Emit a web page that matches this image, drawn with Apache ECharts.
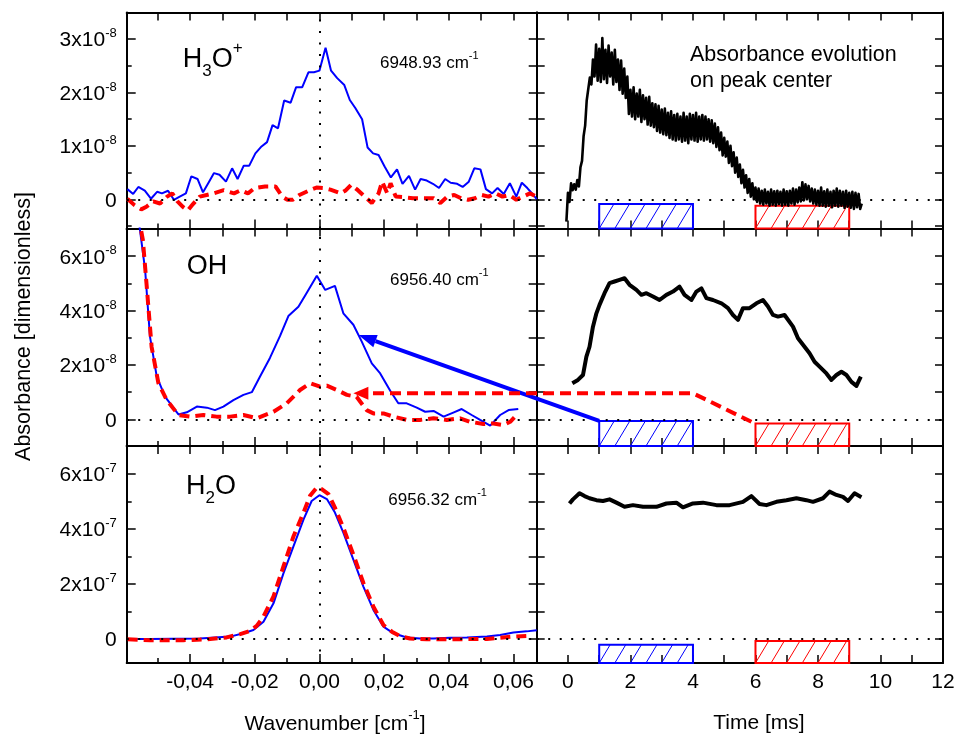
<!DOCTYPE html>
<html>
<head>
<meta charset="utf-8">
<script src="https://cdn.jsdelivr.net/npm/echarts@6/dist/echarts.min.js"></script>
<style>
html, body { margin: 0; padding: 0; background: #fff; }
#chart { width: 958px; height: 735px; }
</style>
</head>
<body>
<div id="chart"></div>
<script>
// ---------- Spectra (left column): wavenumber offset in cm^-1 ----------
// H3O+ line at 6948.93 cm^-1, absorbance in units of 1e-8
const h3oEarlyX = [-0.0594,-0.0576,-0.0560,-0.0540,-0.0521,-0.0502,-0.0487,-0.0468,-0.0450,-0.0432,
  -0.0413,-0.0396,-0.0377,-0.0360,-0.0343,-0.0326,-0.0309,-0.0289,-0.0270,-0.0253,
  -0.0234,-0.0217,-0.0198,-0.0179,-0.0162,-0.0145,-0.0128,-0.0109,-0.0089,-0.0072,
  -0.0053,-0.0034,-0.0017,0.0000,0.0019,0.0036,0.0055,0.0077,0.0094,0.0111,
  0.0132,0.0149,0.0166,0.0183,0.0202,0.0221,0.0240,0.0257,0.0277,0.0296,
  0.0313,0.0332,0.0351,0.0370,0.0389,0.0406,0.0426,0.0443,0.0462,0.0479,
  0.0498,0.0515,0.0534,0.0551,0.0570,0.0589,0.0609,0.0626,0.0643,0.0662,0.0672];
const h3oEarlyY = [0.19,0.10,0.23,0.16,0.01,0.14,0.11,0.16,-0.01,0.05,
  0.11,0.43,0.38,0.13,0.31,0.49,0.46,0.33,0.58,0.38,
  0.63,0.63,0.86,0.99,1.07,1.39,1.33,1.85,1.81,2.10,
  2.10,2.38,2.38,2.41,2.84,2.41,2.27,2.14,1.86,1.71,
  1.50,0.97,0.86,0.83,0.61,0.41,0.56,0.29,0.44,0.18,
  0.38,0.35,0.29,0.21,0.38,0.31,0.29,0.23,0.33,0.58,
  0.56,0.19,0.11,0.21,0.10,0.30,0.05,0.31,0.21,0.08,0.00];
const h3oLateX = [-0.0594,-0.0572,-0.0551,-0.0535,-0.0514,-0.0493,-0.0471,-0.0455,-0.0439,-0.0423,
  -0.0407,-0.0391,-0.0370,-0.0349,-0.0328,-0.0296,-0.0264,-0.0243,-0.0221,-0.0200,
  -0.0168,-0.0136,-0.0115,-0.0099,-0.0083,-0.0062,-0.0030,-0.0009,0.0013,0.0034,
  0.0066,0.0082,0.0098,0.0119,0.0140,0.0162,0.0183,0.0194,0.0210,0.0220,
  0.0236,0.0257,0.0289,0.0321,0.0353,0.0374,0.0396,0.0417,0.0438,0.0460,
  0.0481,0.0502,0.0523,0.0545,0.0566,0.0587,0.0609,0.0630,0.0651,0.0672];
const h3oLateY = [0.01,-0.11,-0.19,-0.14,-0.04,-0.08,0.05,0.11,-0.04,-0.14,
  -0.21,-0.09,0.05,0.08,0.11,0.17,0.11,0.17,0.11,0.21,
  0.24,0.24,0.05,-0.01,-0.01,0.08,0.17,0.22,0.21,0.18,
  0.11,0.17,0.27,0.17,0.05,-0.07,0.11,0.33,0.11,0.30,
  0.05,0.04,0.02,0.02,0.02,-0.07,0.05,0.08,0.02,-0.01,
  0.02,0.08,0.05,0.11,0.05,0.08,-0.01,0.05,0.11,0.05];

// OH line at 6956.40 cm^-1, absorbance in units of 1e-8
const ohEarlyX = [-0.0562,-0.0555,-0.0539,-0.0524,-0.0503,-0.0477,-0.0436,-0.0410,-0.0379,-0.0348,
  -0.0323,-0.0297,-0.0266,-0.0235,-0.0209,-0.0184,-0.0153,-0.0122,-0.0096,-0.0065,
  -0.0039,-0.0008,0.0018,0.0048,0.0074,0.0105,0.0131,0.0162,0.0188,0.0219,
  0.0244,0.0270,0.0301,0.0327,0.0353,0.0384,0.0414,0.0440,0.0471,0.0497,
  0.0528,0.0559,0.0585,0.0615];
const ohEarlyY = [7.6,6.97,5.50,3.04,1.57,0.83,0.18,0.26,0.47,0.43,
  0.34,0.47,0.71,0.90,1.00,1.57,2.26,3.06,3.80,4.14,
  4.66,5.28,4.76,4.91,3.90,3.48,2.86,2.06,1.69,1.05,
  0.59,0.59,0.43,0.28,0.31,0.10,0.25,0.38,0.16,-0.02,
  -0.23,0.16,0.34,0.38];
const ohLateX = [-0.0560,-0.0546,-0.0534,-0.0519,-0.0498,-0.0472,-0.0436,-0.0400,-0.0359,-0.0318,
  -0.0276,-0.0235,-0.0194,-0.0142,-0.0101,-0.0060,-0.0029,0.0002,0.0023,0.0054,
  0.0085,0.0115,0.0146,0.0167,0.0198,0.0229,0.0270,0.0311,0.0353,0.0394,
  0.0435,0.0466,0.0507,0.0538,0.0569,0.0590,0.0615];
const ohLateY = [7.5,6.60,4.88,2.67,1.33,0.71,0.16,0.10,0.16,0.10,
  0.10,0.16,0.04,0.28,0.59,1.08,1.33,1.20,1.24,1.08,
  0.90,0.83,0.34,0.22,0.22,0.10,-0.02,-0.02,0.04,-0.02,
  0.04,-0.09,-0.17,-0.15,-0.21,-0.09,0.22];

// H2O line at 6956.32 cm^-1, absorbance in units of 1e-7
const h2oEarlyX = [-0.0593,-0.0524,-0.0452,-0.0369,-0.0276,-0.0235,-0.0204,-0.0173,-0.0142,-0.0111,
  -0.0080,-0.0049,-0.0024,0.0000,0.0023,0.0048,0.0074,0.0105,0.0136,0.0167,
  0.0198,0.0229,0.0270,0.0311,0.0353,0.0404,0.0456,0.0518,0.0559,0.0600,0.0641,0.0672];
const h2oEarlyY = [0.00,0.00,0.01,0.02,0.09,0.21,0.33,0.63,1.30,2.40,
  3.38,4.35,5.02,5.23,5.09,4.60,3.87,2.89,1.91,1.06,
  0.45,0.21,0.06,0.02,0.02,0.05,0.06,0.09,0.15,0.24,0.28,0.32];
const h2oLateX = [-0.0593,-0.0524,-0.0421,-0.0348,-0.0287,-0.0245,-0.0214,-0.0194,-0.0173,-0.0142,
  -0.0111,-0.0080,-0.0049,-0.0029,-0.0008,0.0007,0.0028,0.0048,0.0074,0.0105,
  0.0136,0.0167,0.0198,0.0224,0.0249,0.0280,0.0332,0.0404,0.0456,0.0518,0.0559,0.0600,0.0641];
const h2oLateY = [-0.01,-0.04,-0.04,-0.01,0.06,0.18,0.30,0.48,0.82,1.55,
  2.65,3.74,4.60,5.21,5.51,5.45,5.27,4.78,4.05,3.07,
  2.04,1.18,0.51,0.27,0.11,0.02,-0.01,-0.01,0.00,0.00,0.05,0.09,0.11];

// ---------- Absorbance on peak centre versus time (right column), time in ms ----------
// H3O+ (1e-8): noisy record, sampled every 0.05 ms
const h3oTraceT = [-0.05,0.00,0.05,0.10,0.15,0.20,0.25,0.30,0.35,0.40,0.45,0.50,0.55,0.60,0.65,0.70,0.75,0.80,0.85,0.90,0.95,
  1.00,1.05,1.10,1.15,1.20,1.25,1.30,1.35,1.40,1.45,1.50,1.55,1.60,1.65,1.70,1.75,1.80,1.85,1.90,1.95,
  2.00,2.05,2.10,2.15,2.20,2.25,2.30,2.35,2.40,2.45,2.50,2.55,2.60,2.65,2.70,2.75,2.80,2.85,2.90,2.95,
  3.00,3.05,3.10,3.15,3.20,3.25,3.30,3.35,3.40,3.45,3.50,3.55,3.60,3.65,3.70,3.75,3.80,3.85,3.90,3.95,
  4.00,4.05,4.10,4.15,4.20,4.25,4.30,4.35,4.40,4.45,4.50,4.55,4.60,4.65,4.70,4.75,4.80,4.85,4.90,4.95,
  5.00,5.05,5.10,5.15,5.20,5.25,5.30,5.35,5.40,5.45,5.50,5.55,5.60,5.65,5.70,5.75,5.80,5.85,5.90,5.95,
  6.00,6.05,6.10,6.15,6.20,6.25,6.30,6.35,6.40,6.45,6.50,6.55,6.60,6.65,6.70,6.75,6.80,6.85,6.90,6.95,
  7.00,7.05,7.10,7.15,7.20,7.25,7.30,7.35,7.40,7.45,7.50,7.55,7.60,7.65,7.70,7.75,7.80,7.85,7.90,7.95,
  8.00,8.05,8.10,8.15,8.20,8.25,8.30,8.35,8.40,8.45,8.50,8.55,8.60,8.65,8.70,8.75,8.80,8.85,8.90,8.95,
  9.00,9.05,9.10,9.15,9.20,9.25,9.30,9.35,9.40];
const h3oTraceY = [-0.42,0.12,-0.05,0.30,0.17,0.28,0.18,0.36,0.24,0.60,0.72,1.18,1.38,1.85,1.85,2.28,2.15,2.62,2.30,2.90,2.22,
  2.82,2.20,3.02,2.25,2.80,2.18,2.88,2.30,2.75,2.15,2.80,2.20,2.62,2.05,2.60,1.98,2.45,1.90,2.30,1.60,
  2.05,1.55,2.10,1.50,1.98,1.55,2.05,1.45,1.95,1.50,1.90,1.40,1.92,1.38,1.80,1.35,1.78,1.28,1.75,1.25,
  1.68,1.22,1.70,1.20,1.62,1.15,1.65,1.12,1.58,1.10,1.60,1.12,1.55,1.08,1.62,1.10,1.55,1.05,1.60,1.12,
  1.58,1.10,1.62,1.08,1.55,1.12,1.58,1.10,1.55,1.12,1.50,1.08,1.48,1.05,1.42,0.98,1.35,0.92,1.25,0.82,
  1.15,0.80,1.08,0.68,1.00,0.62,0.88,0.50,0.78,0.42,0.65,0.30,0.55,0.22,0.45,0.12,0.38,0.05,0.30,0.00,
  0.22,-0.05,0.20,-0.08,0.16,-0.10,0.18,-0.08,0.14,-0.12,0.18,-0.10,0.15,-0.12,0.16,-0.09,0.14,-0.12,0.18,-0.10,
  0.15,-0.12,0.16,-0.08,0.20,-0.10,0.18,-0.06,0.22,-0.04,0.32,-0.02,0.28,0.00,0.25,-0.04,0.20,-0.08,0.18,-0.10,
  0.16,-0.12,0.22,-0.12,0.15,-0.14,0.18,-0.12,0.14,-0.15,0.16,-0.12,0.20,-0.14,0.16,-0.12,0.14,-0.16,0.16,-0.14,
  0.12,-0.16,0.14,-0.18,0.12,-0.15,0.10,-0.18,-0.08];
// OH (1e-8)
const ohTraceT = [0.14,0.32,0.48,0.59,0.69,0.80,0.91,1.01,1.17,1.33,
  1.49,1.65,1.81,1.97,2.19,2.35,2.51,2.72,2.93,3.15,
  3.36,3.57,3.73,3.95,4.11,4.27,4.43,4.64,4.91,5.12,
  5.28,5.44,5.60,5.81,6.03,6.24,6.40,6.56,6.72,6.93,
  7.20,7.36,7.57,7.73,7.89,8.05,8.27,8.43,8.59,8.75,
  8.91,9.07,9.23,9.37];
const ohTraceY = [1.33,1.45,1.63,2.31,2.67,3.41,3.90,4.21,4.64,5.01,
  5.07,5.13,5.19,4.95,4.76,4.58,4.64,4.52,4.39,4.58,
  4.70,4.88,4.58,4.39,4.70,4.82,4.46,4.39,4.27,4.09,
  3.84,3.66,4.09,4.09,4.27,4.39,4.15,3.84,3.78,3.84,
  3.41,2.98,2.67,2.43,2.12,1.94,1.69,1.45,1.63,1.75,
  1.63,1.38,1.23,1.57];
// H2O (1e-7)
const h2oTraceT = [0.05,0.16,0.37,0.53,0.69,0.91,1.12,1.33,1.55,1.81,
  2.08,2.40,2.83,3.15,3.47,3.68,4.00,4.32,4.75,5.17,
  5.60,5.87,6.13,6.35,6.67,6.99,7.31,7.63,7.84,8.16,
  8.37,8.59,8.80,8.96,9.17,9.39];
const h2oTraceY = [4.93,5.08,5.30,5.20,5.12,5.05,5.02,5.08,4.96,4.81,
  4.87,4.81,4.81,4.93,4.96,4.79,4.93,4.96,4.87,4.87,
  4.99,5.20,4.91,4.87,4.99,5.05,5.12,5.05,4.99,5.12,
  5.36,5.24,5.17,5.02,5.30,5.16];

// Averaging windows on the time axis (ms): early = blue, late = red
const windowStart = [1, 6];
const windowEnd = [4, 9];
const windowColors = ['#0000ff', '#ff0000'];
// upper edge of each window box per row (same units as that row's y axis)
const windowTop = [[-0.09, -0.12], [-0.06, -0.15], [-0.21, -0.07]];

// Arrows linking the OH time panel to the OH spectrum
const arrowBlueFrom = [1.0, -0.06];      // time panel (ms, 1e-8)
const arrowBlueTo = [0.0121, 3.10];      // spectrum panel (cm^-1, 1e-8)
const arrowRedPath = [[5.87, -0.09], [4.0, 0.96]];
const arrowRedTo = [0.0105, 0.96];

// ---------- Axes ----------
const waveRange = [-0.0596, 0.0672];
const timeRange = [-1, 12];
const yRanges = [[-0.548, 3.5], [-0.98, 7.02], [-0.87, 7.02]];
const yExponent = ['-8', '-8', '-7'];
const waveMajor = [-0.04, -0.02, 0, 0.02, 0.04, 0.06];
const waveMinor = [-0.05, -0.03, -0.01, 0.01, 0.03, 0.05];
const timeTicks = [0, 1, 2, 3, 4, 5, 6, 7, 8, 9, 10, 11];
const timeLabels = [0, 2, 4, 6, 8, 10, 12];
const yMajor = [[0, 1, 2, 3], [0, 2, 4, 6], [0, 2, 4, 6]];
const yMinor = [[-0.5, 0.5, 1.5, 2.5], [1, 3, 5], [1, 3, 5]];

const speciesLabels = [
  {text: '{m|H}{b|3}{m|O}{p|+}', x: 182.7, y: 59.7},
  {text: '{m|OH}', x: 186.7, y: 266.3},
  {text: '{m|H}{b|2}{m|O}', x: 186, y: 486.7}
];
const lineLabels = [
  {text: '{a|6948.93 cm}{e|-1}', x: 380, y: 63.3},
  {text: '{a|6956.40 cm}{e|-1}', x: 390, y: 280},
  {text: '{a|6956.32 cm}{e|-1}', x: 388.3, y: 500}
];

const FONT = '"Liberation Sans", Arial, Helvetica, sans-serif';
const gridLeft = [126.7, 536.7];
const gridWidth = [410, 406.3];
const gridTop = [12.5, 228.5, 446];
const gridHeight = [216, 217.5, 217];

const pairs = (xs, ys) => xs.map((x, i) => [x, ys[i]]);
const fmtWave = v => v.toFixed(2).replace('.', ',');

function axis(o) {
  const a = {
    type: 'value', gridIndex: o.grid, position: o.position, min: o.min, max: o.max,
    splitLine: {show: false}, minorTick: {show: false}, minorSplitLine: {show: false},
    axisPointer: {show: false},
    axisLine: {show: !!o.line, onZero: false, lineStyle: {color: '#000', width: 2}},
    axisTick: {show: o.ticks.length > 0, inside: true, length: o.len,
      customValues: o.ticks, lineStyle: {color: '#000', width: 1.5}},
    axisLabel: {show: false}
  };
  if (o.labels) {
    a.axisLabel = {show: true, customValues: o.labels, formatter: o.formatter,
      color: '#000', fontSize: 21, fontFamily: FONT, margin: o.margin};
    if (o.rich) a.axisLabel.rich = o.rich;
  }
  return a;
}

// mantissa sits at the bottom of a 24px line, exponent at its top
const yRich = {
  n: {fontSize: 21, lineHeight: 24, verticalAlign: 'bottom', fontFamily: FONT, color: '#000'},
  e: {fontSize: 13, verticalAlign: 'top', fontFamily: FONT, color: '#000'}
};

const grids = [], xAxes = [], yAxes = [];
for (let r = 0; r < 3; r++) {
  for (let c = 0; c < 2; c++) {
    const g = r * 2 + c;
    grids.push({left: gridLeft[c], top: gridTop[r], width: gridWidth[c], height: gridHeight[r]});
    const xr = c === 0 ? waveRange : timeRange;
    const yr = yRanges[r];
    const xAll = c === 0 ? waveMajor.concat(waveMinor) : timeTicks;
    const yAll = yMajor[r].concat(yMinor[r]);
    const exp = yExponent[r];
    xAxes.push(axis({grid: g, position: 'bottom', min: xr[0], max: xr[1], line: true,
      ticks: c === 0 ? waveMajor : timeTicks, len: c === 0 ? 9 : 8,
      labels: r === 2 ? (c === 0 ? waveMajor : timeLabels) : null,
      formatter: c === 0 ? fmtWave : (v => String(v)), margin: 9}));
    xAxes.push(axis({grid: g, position: 'bottom', min: xr[0], max: xr[1],
      ticks: c === 0 ? waveMinor : [], len: 5}));
    xAxes.push(axis({grid: g, position: 'top', min: xr[0], max: xr[1], line: true,
      ticks: xAll, len: 8}));
    yAxes.push(axis({grid: g, position: 'left', min: yr[0], max: yr[1], line: true,
      ticks: c === 0 ? yMajor[r] : yAll, len: c === 0 ? 9 : 8,
      labels: c === 0 ? yMajor[r] : null,
      formatter: v => v === 0 ? '{n|0}' : '{n|' + v + 'x10}{e|' + exp + '}',
      rich: yRich, margin: 10}));
    yAxes.push(axis({grid: g, position: 'left', min: yr[0], max: yr[1],
      ticks: c === 0 ? yMinor[r] : [], len: 5}));
    yAxes.push(axis({grid: g, position: 'right', min: yr[0], max: yr[1], line: true,
      ticks: yAll, len: 8}));
  }
}

// ---------- Series ----------
const dotted = {color: '#000', width: 2, type: [2, 9.5]};
function zeroLines(vertical) {
  const data = [{yAxis: 0}];
  if (vertical) data.push({xAxis: 0});
  return {symbol: ['none', 'none'], silent: true, label: {show: false},
    lineStyle: dotted, emphasis: {disabled: true}, data: data};
}
function spectrum(g, xs, ys, late, withLines) {
  const s = {
    type: 'line', xAxisIndex: g * 3, yAxisIndex: g * 3, data: pairs(xs, ys),
    symbol: 'none', z: late ? 4 : 3, silent: true,
    lineStyle: late ? {color: '#ff0000', width: 4, type: [10, 6]} : {color: '#0000ff', width: 2}
  };
  if (withLines) s.markLine = zeroLines(true);
  return s;
}
function trace(g, ts, ys, width) {
  return {
    type: 'line', xAxisIndex: g * 3, yAxisIndex: g * 3, data: pairs(ts, ys),
    symbol: 'none', z: 3, silent: true,
    lineStyle: {color: '#000', width: width, join: 'round'},
    markLine: zeroLines(false)
  };
}
function renderWindow(params, api) {
  const color = windowColors[params.dataIndex];
  const p0 = api.coord([api.value(0), api.value(2)]);
  const p1 = api.coord([api.value(1), api.value(3)]);
  const x0 = p0[0], y0 = p0[1], x1 = p1[0], y1 = p1[1];
  const h = y1 - y0, k = 0.6, sp = 15.6;
  const children = [];
  // diagonal hatching, one stroke passing through the lower-left corner
  let xb = x0 - Math.floor(h * k / sp) * sp;
  for (; xb < x1; xb += sp) {
    let ax = xb, ay = y1, bx = xb + h * k, by = y0;
    if (ax < x0) { ay = y1 - (x0 - xb) / k; ax = x0; }
    if (bx > x1) { by = y1 - (x1 - xb) / k; bx = x1; }
    children.push({type: 'line', shape: {x1: ax, y1: ay, x2: bx, y2: by},
      style: {stroke: color, lineWidth: 1}});
  }
  children.push({type: 'rect', shape: {x: x0, y: y0, width: x1 - x0, height: h},
    style: {fill: 'rgba(0,0,0,0)', stroke: color, lineWidth: 2}});
  return {type: 'group', children: children};
}
function windows(g, r) {
  return {
    type: 'custom', xAxisIndex: g * 3, yAxisIndex: g * 3, z: 2, silent: true,
    renderItem: renderWindow,
    data: windowStart.map((t0, i) => [t0, windowEnd[i], windowTop[r][i], yRanges[r][0]])
  };
}

const series = [
  spectrum(0, h3oEarlyX, h3oEarlyY, false, true),
  spectrum(0, h3oLateX, h3oLateY, true, false),
  trace(1, h3oTraceT, h3oTraceY, 2.6),
  windows(1, 0),
  spectrum(2, ohEarlyX, ohEarlyY, false, true),
  spectrum(2, ohLateX, ohLateY, true, false),
  trace(3, ohTraceT, ohTraceY, 4),
  windows(3, 1),
  spectrum(4, h2oEarlyX, h2oEarlyY, false, true),
  spectrum(4, h2oLateX, h2oLateY, true, false),
  trace(5, h2oTraceT, h2oTraceY, 4),
  windows(5, 2)
];

// ---------- Text ----------
const speciesRich = {
  m: {fontSize: 27, lineHeight: 40, fontFamily: FONT, fill: '#000'},
  b: {fontSize: 17, lineHeight: 17, verticalAlign: 'bottom', fontFamily: FONT, fill: '#000'},
  p: {fontSize: 17, lineHeight: 22, verticalAlign: 'top', fontFamily: FONT, fill: '#000'}
};
const lineRich = {
  a: {fontSize: 17, lineHeight: 26, fontFamily: FONT, fill: '#000'},
  e: {fontSize: 11, lineHeight: 11, verticalAlign: 'top', fontFamily: FONT, fill: '#000'}
};
const nameRich = {
  t: {fontSize: 21, lineHeight: 30, fontFamily: FONT, fill: '#000'},
  e: {fontSize: 13, lineHeight: 14, verticalAlign: 'top', fontFamily: FONT, fill: '#000'}
};

const graphic = [];
speciesLabels.forEach(l => graphic.push({type: 'text', x: l.x, y: l.y, z: 50, silent: true,
  style: {text: l.text, rich: speciesRich, align: 'left', verticalAlign: 'middle'}}));
lineLabels.forEach(l => graphic.push({type: 'text', x: l.x, y: l.y, z: 50, silent: true,
  style: {text: l.text, rich: lineRich, align: 'left', verticalAlign: 'middle'}}));
graphic.push({type: 'text', x: 690, y: 42, z: 50, silent: true,
  style: {text: 'Absorbance evolution\non peak center', fontSize: 21.5, lineHeight: 26,
    fontFamily: FONT, fill: '#000', align: 'left', verticalAlign: 'top'}});
graphic.push({type: 'text', x: 335, y: 724, z: 50, silent: true,
  style: {text: '{t|Wavenumber [cm}{e|-1}{t|]}', rich: nameRich, align: 'center', verticalAlign: 'middle'}});
graphic.push({type: 'text', x: 759, y: 723, z: 50, silent: true,
  style: {text: 'Time [ms]', fontSize: 21, fontFamily: FONT, fill: '#000', align: 'center', verticalAlign: 'middle'}});
graphic.push({type: 'text', x: 24, y: 326.5, rotation: Math.PI / 2, z: 50, silent: true,
  style: {text: 'Absorbance [dimensionless]', fontSize: 21.5, fontFamily: FONT, fill: '#000',
    align: 'center', verticalAlign: 'middle'}});

const chart = echarts.init(document.getElementById('chart'), null, {renderer: 'canvas'});
chart.setOption({
  animation: false,
  backgroundColor: '#fff',
  grid: grids,
  xAxis: xAxes,
  yAxis: yAxes,
  series: series,
  graphic: graphic
});

// ---------- Arrows (placed through the panels' own scales) ----------
const toPx = (seriesIndex, v) => chart.convertToPixel({seriesIndex: seriesIndex}, v);
function head(tip, from, len, half) {
  const dx = tip[0] - from[0], dy = tip[1] - from[1], d = Math.hypot(dx, dy);
  const ux = dx / d, uy = dy / d;
  const bx = tip[0] - ux * len, by = tip[1] - uy * len;
  return {base: [bx, by], pts: [tip, [bx - uy * half, by + ux * half], [bx + uy * half, by - ux * half]]};
}
const blueTail = toPx(6, arrowBlueFrom);
const blueTip = toPx(4, arrowBlueTo);
const blueHead = head(blueTip, blueTail, 18, 6.5);
const redPts = arrowRedPath.map(p => toPx(6, p));
const redTip = toPx(4, arrowRedTo);
const redHead = head(redTip, redPts[redPts.length - 1], 15, 6.5);

graphic.push(
  {type: 'polyline', z: 60, silent: true, shape: {points: [blueTail, blueHead.base]},
    style: {stroke: '#0000ff', lineWidth: 4, fill: null}},
  {type: 'polygon', z: 60, silent: true, shape: {points: blueHead.pts},
    style: {fill: '#0000ff'}},
  {type: 'polyline', z: 61, silent: true, shape: {points: redPts.concat([redHead.base])},
    style: {stroke: '#ff0000', lineWidth: 4, lineDash: [11, 6], fill: null}},
  {type: 'polygon', z: 61, silent: true, shape: {points: redHead.pts},
    style: {fill: '#ff0000'}}
);
chart.setOption({graphic: graphic}, {replaceMerge: ['graphic']});
</script>
</body>
</html>
